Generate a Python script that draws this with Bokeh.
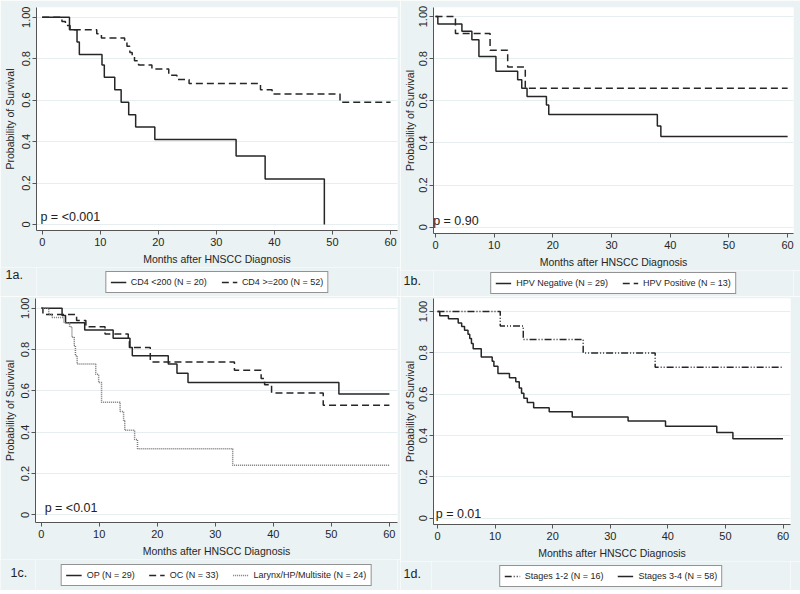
from bokeh.plotting import figure
from bokeh.models import Legend, LegendItem, Label, FixedTicker
from bokeh.layouts import column, row
from bokeh.embed import file_html
from bokeh.resources import INLINE

# ---------------- data ----------------
months_ticks = [0, 10, 20, 30, 40, 50, 60]
surv_ticks = [0, 0.2, 0.4, 0.6, 0.8, 1.0]
surv_tick_labels = ["0", "0.2", "0.4", "0.6", "0.8", "1.00"]

# 1a
cd4_lt200_t = [0, 4.7, 6.0, 6.4, 10.3, 10.7, 12.5, 13.6, 14.9, 16.1, 19.4, 33.4, 38.4, 48.6]
cd4_lt200_s = [1.0, 0.94, 0.88, 0.82, 0.77, 0.71, 0.65, 0.59, 0.53, 0.47, 0.41, 0.33, 0.22, 0.0]
cd4_ge200_t = [0, 3.4, 4.0, 4.8, 9.4, 10.2, 14.2, 14.6, 15.1, 15.5, 15.9, 16.6, 18.9, 21.8,
               23.2, 25.3, 37.6, 39.6, 51.3, 60]
cd4_ge200_s = [1.0, 0.98, 0.96, 0.94, 0.92, 0.90, 0.88, 0.86, 0.83, 0.81, 0.79, 0.77, 0.75, 0.72,
               0.70, 0.68, 0.65, 0.63, 0.59, 0.59]

# 1b
hpv_neg_t = [0, 0.4, 4.5, 6.2, 7.4, 10.3, 14.0, 14.7, 15.6, 18.9, 19.3, 37.8, 38.4, 60]
hpv_neg_s = [1.0, 0.965, 0.93, 0.89, 0.81, 0.74, 0.70, 0.66, 0.62, 0.58, 0.535, 0.48, 0.43, 0.43]
hpv_pos_t = [0, 3.4, 9.3, 12.3, 15.3, 60]
hpv_pos_s = [1.0, 0.92, 0.84, 0.76, 0.66, 0.66]

# 1c
op_t = [0, 3.6, 4.2, 7.5, 12.4, 15.3, 15.7, 21.9, 23.4, 25.3, 51.3, 60]
op_s = [1.0, 0.965, 0.93, 0.895, 0.855, 0.81, 0.77, 0.73, 0.685, 0.64, 0.585, 0.585]
oc_t = [0, 0.3, 6.1, 7.7, 11.0, 15.0, 15.2, 18.8, 33.3, 37.9, 38.5, 39.7, 48.6, 60]
oc_s = [1.0, 0.97, 0.94, 0.91, 0.875, 0.84, 0.81, 0.74, 0.70, 0.66, 0.63, 0.59, 0.53, 0.53]
lar_t = [0, 1.3, 1.9, 3.9, 4.9, 5.3, 5.7, 5.9, 6.2, 9.4, 9.9, 10.4, 13.6, 14.2, 14.4, 16.1,
         16.6, 33.0, 60]
lar_s = [1.0, 0.97, 0.955, 0.93, 0.91, 0.86, 0.82, 0.77, 0.73, 0.68, 0.64, 0.545, 0.50, 0.455,
         0.41, 0.365, 0.32, 0.24, 0.24]

# 1d
st12_t = [0, 10.9, 14.9, 25.3, 37.8, 60]
st12_s = [1.0, 0.93, 0.865, 0.80, 0.73, 0.73]
st34_t = [0, 0.4, 1.9, 3.6, 4.2, 4.7, 5.3, 5.6, 5.9, 6.2, 7.6, 9.5, 9.8, 10.5, 12.5, 13.6,
          14.2, 14.6, 15.0, 15.6, 16.7, 19.4, 23.4, 33.1, 39.6, 48.5, 51.3, 60]
st34_s = [1.0, 0.98, 0.965, 0.945, 0.927, 0.91, 0.89, 0.87, 0.845, 0.82, 0.78, 0.76, 0.735,
          0.70, 0.68, 0.66, 0.63, 0.605, 0.58, 0.56, 0.535, 0.515, 0.49, 0.47, 0.445, 0.415,
          0.385, 0.385]

FONT = "Liberation Sans"
BG = "#eaf2f3"
INK = "#262626"
W = 400


def blank_fig(width, height, x_rng, y_rng):
    f = figure(width=width, height=height, x_range=x_rng, y_range=y_rng,
               x_axis_type=None, y_axis_type=None, output_backend="svg",
               toolbar_location=None, min_border=0)
    f.background_fill_color = BG
    f.border_fill_color = BG
    f.outline_line_color = None
    f.grid.visible = False
    return f


def make_panel(series, pval, tag, left, right, top, main_h, leg_h, x_rng, y_rng):
    p = figure(width=W, height=main_h, x_range=x_rng, y_range=y_rng,
               output_backend="svg", toolbar_location=None,
               min_border_left=left, min_border_right=right, min_border_top=top,
               min_border_bottom=37)
    p.background_fill_color = "white"
    p.border_fill_color = BG
    p.outline_line_color = None

    p.xaxis.ticker = FixedTicker(ticks=months_ticks)
    p.yaxis.ticker = FixedTicker(ticks=surv_ticks)
    p.yaxis.major_label_overrides = {t: l for t, l in zip(surv_ticks, surv_tick_labels)}
    p.yaxis.major_label_orientation = "vertical"
    p.xaxis.axis_label = "Months after HNSCC Diagnosis"
    p.yaxis.axis_label = "Probability of Survival"
    for ax in (p.xaxis, p.yaxis):
        ax.axis_line_color = "#555555"
        ax.major_tick_line_color = "#555555"
        ax.major_tick_out = 4
        ax.major_tick_in = 0
        ax.minor_tick_line_color = None
        ax.major_label_text_font = FONT
        ax.major_label_text_font_size = "11px"
        ax.major_label_text_color = INK
        ax.axis_label_text_font = FONT
        ax.axis_label_text_font_size = "10.5px"
        ax.axis_label_text_font_style = "normal"
        ax.axis_label_text_color = INK
    p.xaxis.major_label_standoff = 3
    p.xaxis.axis_label_standoff = 4
    p.yaxis.major_label_standoff = 2
    p.yaxis.axis_label_standoff = max(1, left - 32)
    p.xgrid.grid_line_color = None
    p.ygrid.grid_line_color = "#e6eef0"
    p.ygrid.grid_line_width = 1

    for t, s, label, dash, color in series:
        p.step(t, s, mode="after", line_color=color, line_width=1.5, line_dash=dash)

    p.add_layout(Label(x=pval[0], y=pval[1], text=pval[2], text_font=FONT,
                       text_font_size="12.5px", text_color="#222222",
                       text_baseline="middle"))

    # legend strip below the plot: panel tag on the left, framed legend centred under the axes
    tag_f = blank_fig(left, leg_h, (0, left), (0, leg_h))
    tag_f.add_layout(Label(x=tag[1], y=tag[2], text=tag[0], text_font=FONT,
                           text_font_size="12.5px", text_color="#222222",
                           text_baseline="middle"))
    lw = W - left - right
    # the strip's ranges lie far from the data, so its copies of the curves stay hidden
    leg_f = blank_fig(lw, leg_h, (-1000, -1000 + lw), (-1000, -1000 + leg_h))
    items = []
    for t, s, label, dash, color in series:
        r = leg_f.step(t, s, mode="after", line_color=color, line_width=1.5, line_dash=dash)
        items.append(LegendItem(label=label, renderers=[r]))
    legend = Legend(items=items, orientation="horizontal", location="center",
                    label_text_font=FONT, label_text_font_size="9px",
                    label_text_color=INK, glyph_width=16, glyph_height=12,
                    label_height=12, label_standoff=5, spacing=14, padding=4,
                    margin=0, border_line_color=INK, border_line_width=1,
                    background_fill_color="white", background_fill_alpha=1.0)
    leg_f.add_layout(legend, "center")
    pad_f = blank_fig(right, leg_h, (0, right), (0, leg_h))
    return column(p, row(tag_f, leg_f, pad_f))


pa = make_panel([(cd4_lt200_t, cd4_lt200_s, "CD4 <200 (N = 20)", "solid", INK),
                 (cd4_ge200_t, cd4_ge200_s, "CD4 >=200 (N = 52)", "7 4", INK)],
                (-0.3, 0.035, "p = <0.001"), ("1a.", 5, 22), 36, 3, 7, 267, 29,
                (-0.98, 61.2), (-0.029, 1.047))
pb = make_panel([(hpv_neg_t, hpv_neg_s, "HPV Negative (N = 29)", "solid", INK),
                 (hpv_pos_t, hpv_pos_s, "HPV Positive (N = 13)", "7 4", INK)],
                (-0.4, 0.03, "p = 0.90"), ("1b.", 3, 16), 33, 7, 7, 270, 26,
                (-0.34, 61.0), (-0.03, 1.043))
pc = make_panel([(op_t, op_s, "OP (N = 29)", "solid", INK),
                 (oc_t, oc_s, "OC (N = 33)", "7 4", INK),
                 (lar_t, lar_s, "Larynx/HP/Multisite (N = 24)", "1 1", "#777777")],
                (0.6, 0.034, "p = <0.01"), ("1c.", 10, 18), 35, 3, 2, 263, 31,
                (-0.98, 61.4), (-0.037, 1.047))
pd_ = make_panel([(st12_t, st12_s, "Stages 1-2 (N = 16)", "7 2 1 2 1 2", INK),
                  (st34_t, st34_s, "Stages 3-4 (N = 58)", "solid", INK)],
                 (-0.3, 0.02, "p = 0.01"), ("1d.", 3, 17), 31, 10, 2, 265, 29,
                 (-0.69, 61.3), (-0.03, 1.063))

layout = column(row(pa, pb), row(pc, pd_))
open("out.html", "w").write(file_html(layout, INLINE))
